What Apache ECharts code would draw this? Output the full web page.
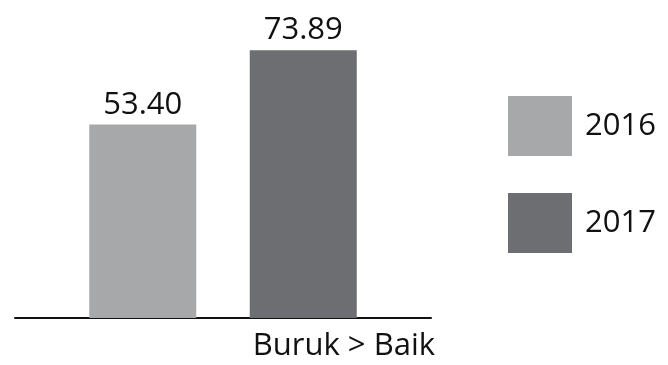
<!DOCTYPE html>
<html>
<head>
<meta charset="utf-8">
<script src="https://cdn.jsdelivr.net/npm/echarts@6/dist/echarts.min.js"></script>
<style>
  html, body { margin: 0; padding: 0; background: #ffffff; }
  #chart { width: 668px; height: 365px; }
</style>
</head>
<body>
<div id="chart"></div>
<script>
// Index score, one category, two survey years
const categories = ['Buruk > Baik'];
const years = ['2016', '2017'];
const values2016 = [53.40];
const values2017 = [73.89];
const colors = ['#a7a8aa', '#6d6e71'];

const font = '"Open Sans", "Noto Sans", sans-serif';
const textColor = '#111111';

const chart = echarts.init(document.getElementById('chart'), null, { renderer: 'canvas' });

const labelCfg = {
  show: true,
  position: 'top',
  distance: 4,
  fontFamily: font,
  fontSize: 31,
  color: textColor,
  formatter: p => p.value.toFixed(2)
};

chart.setOption({
  animation: false,
  grid: { left: 15, right: 237, top: 28, bottom: 47, containLabel: false },
  legend: {
    orient: 'vertical',
    left: 503,
    top: 91,
    itemWidth: 64,
    itemHeight: 60,
    itemGap: 37,
    icon: 'rect',
    selectedMode: false,
    textStyle: { fontFamily: font, fontSize: 31, color: textColor, padding: [4, 0, 0, 8] },
    data: years
  },
  xAxis: {
    type: 'category',
    data: categories,
    axisLine: { show: true, lineStyle: { color: '#111111', width: 2 } },
    axisTick: { show: false },
    axisLabel: { show: false },
    name: categories[0],
    nameLocation: 'end',
    nameGap: 4,
    nameTextStyle: {
      fontFamily: font, fontSize: 31, color: textColor,
      align: 'right', verticalAlign: 'top', padding: [13, 0, 0, 0]
    }
  },
  yAxis: {
    type: 'value',
    min: 0,
    max: 80,
    show: false,
    splitLine: { show: false }
  },
  series: [
    {
      name: years[0], type: 'bar', data: values2016,
      barWidth: 107, barGap: '50%',
      itemStyle: { color: colors[0] },
      label: labelCfg
    },
    {
      name: years[1], type: 'bar', data: values2017,
      barWidth: 107,
      itemStyle: { color: colors[1] },
      label: labelCfg
    }
  ]
});
</script>
</body>
</html>
